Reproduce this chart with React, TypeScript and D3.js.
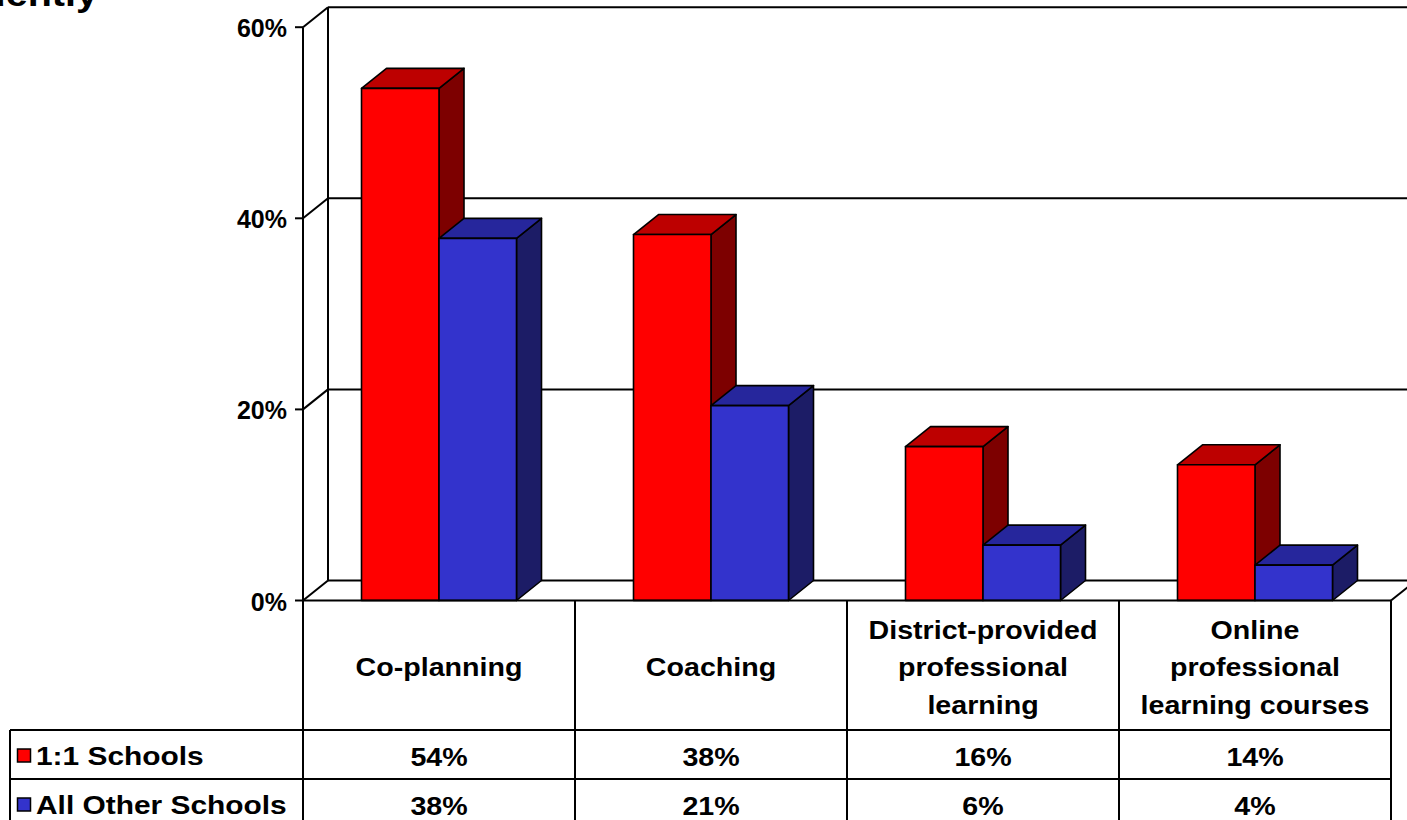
import React from "react";
import * as d3 from "d3";

const categoryLines: string[][] = [
  ["Co-planning"],
  ["Coaching"],
  ["District-provided", "professional", "learning"],
  ["Online", "professional", "learning courses"],
];
const seriesNames = ["1:1 Schools", "All Other Schools"];
const oneToOneValues = [53.6, 38.3, 16.1, 14.2];
const otherValues = [37.9, 20.4, 5.8, 3.7];
const oneToOneLabels = ["54%", "38%", "16%", "14%"];
const otherLabels = ["38%", "21%", "6%", "4%"];
const yTicks = [0, 20, 40, 60];
const titleText = "Frequently";

const W = 1407;
const H = 820;
const FONT = "'Liberation Sans', Arial, Helvetica, sans-serif";

const frontColors = ["#FF0000", "#3333CC"];
const topColors = ["#BD0000", "#26269C"];
const sideColors = ["#7D0000", "#1C1C66"];

export default function App() {
  const left = 303;
  const right = 1391;
  const DX = 25;
  const DY = -20;
  const y = d3.scaleLinear().domain([0, 60]).range([600.5, 27.2]);
  const x = d3
    .scaleBand<number>()
    .domain(d3.range(categoryLines.length))
    .range([left, right]);
  const inner = d3
    .scaleBand<number>()
    .domain([0, 1])
    .range([58.5, x.bandwidth() - 58.5]);
  const y0 = y(0);
  const seriesValues = [oneToOneValues, otherValues];
  const seriesLabels = [oneToOneLabels, otherLabels];

  const headerTop = y0;
  const headerBottom = 730;
  const rowH = 49;
  const legendLeft = 10;
  const lineH = 37.5;
  const textScale = 1.1;
  const legendScale = 1.15;
  const sw = 2;

  const bars: React.ReactNode[] = [];
  categoryLines.forEach((_, ci) => {
    [0, 1].forEach((si) => {
      const v = seriesValues[si][ci];
      const bx = (x(ci) as number) + (inner(si) as number);
      const bw = inner.bandwidth();
      const yt = y(v);
      const top = [
        [bx, yt],
        [bx + DX, yt + DY],
        [bx + bw + DX, yt + DY],
        [bx + bw, yt],
      ];
      const side = [
        [bx + bw, yt],
        [bx + bw + DX, yt + DY],
        [bx + bw + DX, y0 + DY],
        [bx + bw, y0],
      ];
      const pts = (p: number[][]) => p.map((q) => q.join(",")).join(" ");
      bars.push(
        <g key={`b${ci}-${si}`} stroke="#000" strokeWidth={1.6} strokeLinejoin="round">
          <polygon points={pts(side)} fill={sideColors[si]} />
          <polygon points={pts(top)} fill={topColors[si]} />
          <rect x={bx} y={yt} width={bw} height={y0 - yt} fill={frontColors[si]} />
        </g>
      );
    });
  });

  const stretchText = (
    key: string,
    tx: number,
    ty: number,
    txt: string,
    anchor: "start" | "middle" | "end",
    size: number,
    sx: number,
    baseline: "central" | "alphabetic" = "central"
  ) => (
    <text
      key={key}
      transform={`translate(${tx},${ty}) scale(${sx},1)`}
      textAnchor={anchor}
      dominantBaseline={baseline}
      fontSize={size}
      fontWeight="bold"
      fontFamily={FONT}
      fill="#000"
    >
      {txt}
    </text>
  );

  return (
    <svg
      width={W}
      height={H}
      style={{ position: "absolute", left: 0, top: 0, background: "#fff" }}
    >
      {/* title, cut off at the top edge as in the reference */}
      {stretchText("title", 98, 6, titleText, "end", 35, 1.13, "alphabetic")}

      {/* back wall gridlines */}
      <g stroke="#000" strokeWidth={sw}>
        {yTicks.map((t) => (
          <line key={`g${t}`} x1={left + DX} x2={right + DX + 20} y1={y(t) + DY} y2={y(t) + DY} />
        ))}
        <line x1={left + DX} x2={left + DX} y1={y(60) + DY} y2={y0 + DY} />
        {/* left wall diagonals */}
        {yTicks.map((t) => (
          <line key={`d${t}`} x1={left} x2={left + DX} y1={y(t)} y2={y(t) + DY} />
        ))}
        {/* front value axis */}
        <line x1={left} x2={left} y1={y(60)} y2={H} />
        {yTicks.map((t) => (
          <line key={`t${t}`} x1={left - 8} x2={left} y1={y(t)} y2={y(t)} />
        ))}
        {/* right floor edge */}
        <line x1={right} x2={right + DX} y1={y0} y2={y0 + DY} />
      </g>

      {yTicks.map((t) =>
        stretchText(`yl${t}`, left - 16, y(t) + 1, `${t}%`, "end", 25, 1)
      )}

      {bars}

      {/* data table */}
      <g stroke="#000" strokeWidth={sw}>
        <line x1={left} x2={right} y1={headerTop} y2={headerTop} />
        <line x1={legendLeft} x2={right} y1={headerBottom} y2={headerBottom} />
        <line x1={legendLeft} x2={right} y1={headerBottom + rowH} y2={headerBottom + rowH} />
        <line x1={legendLeft} x2={right} y1={headerBottom + rowH * 2} y2={headerBottom + rowH * 2} />
        <line x1={legendLeft} x2={legendLeft} y1={headerBottom} y2={H} />
        {d3.range(categoryLines.length + 1).map((i) => {
          const xx = i < categoryLines.length ? (x(i) as number) : right;
          return <line key={`c${i}`} x1={xx} x2={xx} y1={headerTop} y2={H} />;
        })}
      </g>

      {categoryLines.map((lines, ci) => {
        const cx = (x(ci) as number) + x.bandwidth() / 2;
        const cy = (headerTop + headerBottom) / 2 + 2;
        return lines.map((ln, li) =>
          stretchText(
            `cl${ci}-${li}`,
            cx,
            cy + (li - (lines.length - 1) / 2) * lineH,
            ln,
            "middle",
            26,
            textScale
          )
        );
      })}

      {seriesNames.map((name, si) => {
        const cy = headerBottom + rowH * si + rowH / 2 + 2;
        return (
          <g key={`row${si}`}>
            <rect
              x={17.5}
              y={cy - 7.5}
              width={13}
              height={13}
              fill={frontColors[si]}
              stroke="#000"
              strokeWidth={1.5}
            />
            {stretchText(`ln${si}`, 36, cy, name, "start", 26, legendScale)}
            {seriesLabels[si].map((lab, ci) =>
              stretchText(
                `v${si}-${ci}`,
                (x(ci) as number) + x.bandwidth() / 2,
                cy,
                lab,
                "middle",
                26,
                textScale
              )
            )}
          </g>
        );
      })}
    </svg>
  );
}
